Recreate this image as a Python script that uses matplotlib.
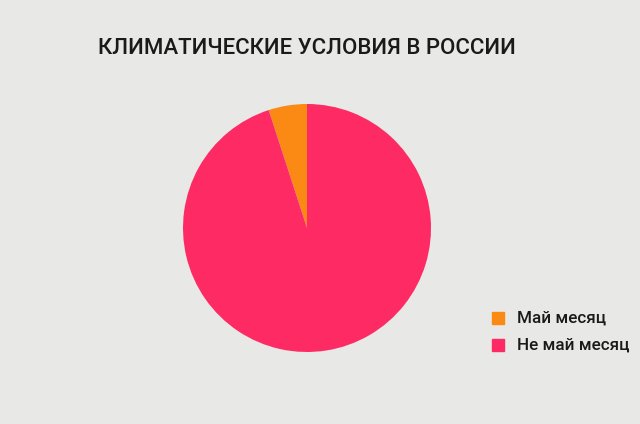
import matplotlib.pyplot as plt
from matplotlib.patches import Rectangle

labels = ["Май месяц", "Не май месяц"]
shares = [5, 95]
colors = ["#fb8a14", "#fd2a63"]
title = "КЛИМАТИЧЕСКИЕ УСЛОВИЯ В РОССИИ"

W, H = 640, 424
bg = "#e8e8e7"

fig = plt.figure(figsize=(W / 100, H / 100), dpi=100, facecolor=bg)

# pie centred at (307, 228) px, radius ~124 px
cx, cy, r = 307, 228, 124
ax = fig.add_axes([(cx - r) / W, 1 - (cy + r) / H, 2 * r / W, 2 * r / H])
ax.pie(shares, colors=colors, startangle=90, counterclock=True,
       radius=1.0, wedgeprops=dict(linewidth=0))
ax.set_xlim(-1, 1)
ax.set_ylim(-1, 1)
ax.set_aspect("auto")
ax.axis("off")

fig.text(307 / W, 1 - 49 / H, title, ha="center", va="center",
         fontsize=16, family="Roboto", fontweight="medium", color="#1a1a1a")

# legend
for i, (lab, col) in enumerate(zip(labels, colors)):
    y = 318 + i * 27
    fig.patches.append(Rectangle((492 / W, 1 - (y + 6) / H), 12 / W, 12 / H,
                                 transform=fig.transFigure, color=col))
    fig.text(517 / W, 1 - y / H, lab, ha="left", va="center",
             fontsize=12.3, family="Roboto", fontweight="medium",
             color="#1a1a1a")

fig.savefig("out.png", dpi=100, facecolor=bg)
